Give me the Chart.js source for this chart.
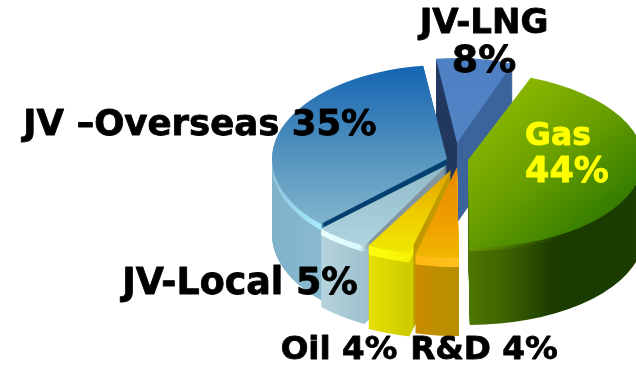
<!DOCTYPE html>
<html>
<head>
<meta charset="utf-8">
<script src="https://cdn.jsdelivr.net/npm/chart.js@4"></script>
<style>
  html, body { margin: 0; background: #fff; overflow: hidden; }
  canvas { display: block; }
</style>
</head>
<body>
<canvas id="shareChart" width="636" height="366"></canvas>
<script>
// clockwise from the top right
const categories = ["Gas", "R&D", "Oil", "JV-Local", "JV –Overseas", "JV-LNG"];
const shares = [44, 4, 4, 5, 35, 8];

// back slices first
const drawOrder = [5, 4, 3, 0, 2, 1];

// where each exploded slice sits on the page
const sliceCx = [468, 457, 451, 447, 447, 457];
const sliceCy = [160, 167, 170, 165, 159, 143];
const sliceRx = [175, 175, 175, 175, 175, 155];
const sliceRy = [88, 91, 86, 92, 94, 85];
const sliceDepth = [77, 78, 83, 78, 76, 80];
const rimSize = [3, 9, 9, 6, 6, 0];

// [x0, y0, x1, y1, [stop, colour]...] in page pixels
const topFills = [
  [470, 110, 694, 175, [0, "#8fbb00"], [0.45, "#6a9f00"], [0.8, "#3c8200"], [1, "#2a6a00"]],
  [0, 170, 0, 258, [0, "#e88a00"], [0.6, "#f09f00"], [1, "#efb800"]],
  [0, 170, 0, 255, [0, "#e0a000"], [0.5, "#eecb00"], [1, "#eeea00"]],
  [0, 165, 0, 240, [0, "#8fb9c9"], [1, "#aed2dd"]],
  [0, 68, 0, 225, [0, "#1566b2"], [0.5, "#4f8fbd"], [1, "#82b5cd"]],
  [0, 60, 0, 145, [0, "#4e80c4"], [1, "#5283c4"]],
];
const wallFills = [
  [470, 0, 636, 0, [0, "#4d7600"], [0.2, "#3f6400"], [0.5, "#1b3b00"], [1, "#1b3d00"]],
  [416, 0, 458, 0, [0, "#cc8a00"], [0.5, "#bd8e00"], [1, "#b88f00"]],
  [368, 0, 445, 0, [0, "#e6e000"], [0.5, "#cfcd00"], [0.58, "#cfcd00"], [0.6, "#c09a00"], [1, "#c09a00"]],
  [323, 0, 445, 0, [0, "#b5d3dc"], [0.37, "#9dbfcc"], [0.39, "#80979f"], [1, "#80979f"]],
  [272, 0, 445, 0, [0, "#7fb3ca"], [0.29, "#8abad0"], [0.3, "#04406f"], [1, "#04406f"]],
  [437, 0, 470, 0, [0, "#22375e"], [0.6, "#22375e"], [0.62, "#3c649c"], [1, "#3c649c"]],
];
const rimFills = [
  [470, 0, 560, 0, [0, "#6a9a00"], [1, "#1b3b00"]],
  [416, 0, 458, 0, [0, "#ffb810"], [1, "#ffc020"]],
  [368, 0, 445, 0, [0, "#ffff10"], [0.58, "#f4f000"], [0.6, "#c09a00"], [1, "#c09a00"]],
  [323, 0, 445, 0, [0, "#e8ffff"], [0.3, "#d8f8ff"], [0.39, "#80979f"], [1, "#80979f"]],
  [272, 0, 445, 0, [0, "#8fc4da"], [0.28, "#a6ecff"], [0.3, "#04406f"], [1, "#04406f"]],
  [437, 0, 470, 0, [0, "#22375e"], [1, "#3c649c"]],
];

const labelSpots = [
  { lines: [categories[0], shares[0] + "%"], x: [558, 567], y: [137, 173], size: [31.5, 35], color: "#ffff00" },
  { lines: [categories[1] + " " + shares[1] + "%"], x: [484], y: [351], size: [32.7], color: "#000" },
  { lines: [categories[2] + " " + shares[2] + "%"], x: [339], y: [351], size: [32.6], color: "#000" },
  { lines: [categories[3] + " " + shares[3] + "%"], x: [240], y: [285], size: [36.4], color: "#000" },
  { lines: [categories[4] + " " + shares[4] + "%"], x: [200], y: [126], size: [35.5], color: "#000" },
  { lines: [categories[5], shares[5] + "%"], x: [484, 484], y: [24, 62], size: [34, 38], color: "#000" },
];

function makeFill(ctx, spec, toLocal) {
  const a = toLocal(spec[0], spec[1]);
  const b = toLocal(spec[2], spec[3]);
  const g = ctx.createLinearGradient(a[0], a[1], b[0], b[1]);
  spec.slice(4).forEach(s => g.addColorStop(s[0], s[1]));
  return g;
}

// draws every arc squashed into an ellipse, with its wall stacked below it
const solidPie = {
  id: "solidPie",
  beforeDatasetsDraw(chart) {
    const ctx = chart.ctx;
    const arcs = chart.getDatasetMeta(0).data;
    drawOrder.forEach(i => {
      const el = arcs[i];
      const sx = sliceRx[i] / el.outerRadius;
      const sy = sliceRy[i] / el.outerRadius;
      const toLocal = (x, y) => [
        el.x + (x - sliceCx[i]) / sx,
        el.y + (y - sliceCy[i]) / sy,
      ];
      const paint = (drop, spec) => {
        ctx.save();
        ctx.translate(sliceCx[i], sliceCy[i] + drop);
        ctx.scale(sx, sy);
        ctx.translate(-el.x, -el.y);
        el.options.backgroundColor = makeFill(ctx, spec, toLocal);
        el.draw(ctx);
        ctx.restore();
      };
      for (let d = sliceDepth[i]; d > 0; d--) {
        paint(d, d <= rimSize[i] ? rimFills[i] : wallFills[i]);
      }
      paint(0, topFills[i]);
    });
    return false;
  },
  afterDraw(chart) {
    const ctx = chart.ctx;
    ctx.save();
    ctx.textAlign = "center";
    ctx.textBaseline = "middle";
    ctx.lineWidth = 0.8;
    ctx.lineJoin = "round";
    labelSpots.forEach(spot => {
      ctx.fillStyle = spot.color;
      ctx.strokeStyle = spot.color;
      spot.lines.forEach((line, n) => {
        ctx.font = 'bold ' + spot.size[n] + 'px "DejaVu Sans"';
        ctx.fillText(line, spot.x[n], spot.y[n]);
        ctx.strokeText(line, spot.x[n], spot.y[n]);
      });
    });
    ctx.restore();
  },
};

new Chart(document.getElementById("shareChart").getContext("2d"), {
  type: "pie",
  data: {
    labels: categories,
    datasets: [{ data: shares, backgroundColor: "#999", borderWidth: 0 }],
  },
  options: {
    responsive: false,
    animation: false,
    rotation: 21,
    plugins: { legend: { display: false }, tooltip: { enabled: false } },
  },
  plugins: [solidPie],
});
</script>
</body>
</html>
